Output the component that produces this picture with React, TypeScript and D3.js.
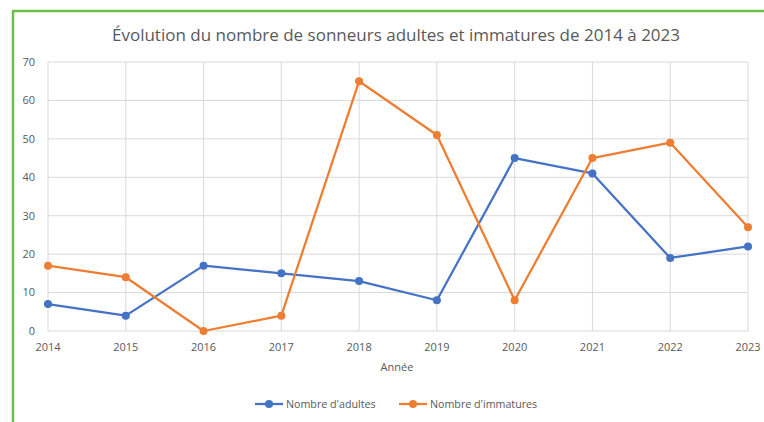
import React, { useEffect, useRef } from "react";
import * as d3 from "d3";

const years = ["2014", "2015", "2016", "2017", "2018", "2019", "2020", "2021", "2022", "2023"];
const adultes = [7, 4, 17, 15, 13, 8, 45, 41, 19, 22];
const immatures = [17, 14, 0, 4, 65, 51, 8, 45, 49, 27];
const yTicks = [0, 10, 20, 30, 40, 50, 60, 70];

const seriesList = [
    { name: "Nombre d'adultes", values: adultes, color: "#4472C4" },
    { name: "Nombre d'immatures", values: immatures, color: "#ED7D31" },
];

const W = 764;
const H = 422;
const font = "'Open Sans', sans-serif";
const textColor = "#595959";

const App = () => {
    const ref = useRef<SVGSVGElement>(null);

    useEffect(() => {
        const svg = d3.select(ref.current);
        svg.selectAll("*").remove();

        const x = d3.scalePoint<string>().domain(years).range([48, 748]);
        const y = d3.scaleLinear().domain([0, 70]).range([331, 62]);

        // green frame (left and top only visible)
        svg.append("line").attr("x1", 13).attr("x2", 13).attr("y1", 11).attr("y2", H)
            .attr("stroke", "#6cbf4a").attr("stroke-width", 2.5);
        svg.append("line").attr("x1", 12).attr("x2", W).attr("y1", 11).attr("y2", 11)
            .attr("stroke", "#6cbf4a").attr("stroke-width", 2.5);

        svg.append("text")
            .attr("x", 396).attr("y", 41)
            .attr("text-anchor", "middle")
            .style("font-family", font).style("font-size", "17px")
            .attr("fill", textColor)
            .text("Évolution du nombre de sonneurs adultes et immatures de 2014 à 2023");

        const grid = svg.append("g");
        grid.selectAll("line.h").data(yTicks).join("line")
            .attr("class", "h")
            .attr("x1", 48).attr("x2", 748)
            .attr("y1", d => y(d)).attr("y2", d => y(d))
            .attr("stroke", "#d9d9d9").attr("stroke-width", 1);
        grid.selectAll("line.v").data(years).join("line")
            .attr("class", "v")
            .attr("x1", d => x(d)!).attr("x2", d => x(d)!)
            .attr("y1", 62).attr("y2", 331)
            .attr("stroke", "#d9d9d9").attr("stroke-width", 1);

        svg.append("g").selectAll("text").data(yTicks).join("text")
            .attr("x", 35).attr("y", d => y(d))
            .attr("dy", "0.35em")
            .attr("text-anchor", "end")
            .style("font-family", font).style("font-size", "11px")
            .attr("fill", textColor)
            .text(d => d);

        svg.append("g").selectAll("text").data(years).join("text")
            .attr("x", d => x(d)!).attr("y", 351)
            .attr("text-anchor", "middle")
            .style("font-family", font).style("font-size", "11px")
            .attr("fill", textColor)
            .text(d => d);

        svg.append("text")
            .attr("x", 397).attr("y", 371)
            .attr("text-anchor", "middle")
            .style("font-family", font).style("font-size", "11px")
            .attr("fill", textColor)
            .text("Année");

        const line = d3.line<number>()
            .x((d, i) => x(years[i])!)
            .y(d => y(d));

        seriesList.forEach(s => {
            const g = svg.append("g");
            g.append("path")
                .datum(s.values)
                .attr("d", line)
                .attr("fill", "none")
                .attr("stroke", s.color)
                .attr("stroke-width", 2.25)
                .attr("stroke-linejoin", "round");
            g.selectAll("circle").data(s.values).join("circle")
                .attr("cx", (d, i) => x(years[i])!)
                .attr("cy", d => y(d))
                .attr("r", 4)
                .attr("fill", s.color);
        });

        // legend
        const legendX = [255, 399];
        seriesList.forEach((s, i) => {
            const lg = svg.append("g").attr("transform", `translate(${legendX[i]},404)`);
            lg.append("line").attr("x1", 0).attr("x2", 28).attr("y1", 0).attr("y2", 0)
                .attr("stroke", s.color).attr("stroke-width", 2.25);
            lg.append("circle").attr("cx", 14).attr("cy", 0).attr("r", 4).attr("fill", s.color);
            lg.append("text").attr("x", 31).attr("y", 0).attr("dy", "0.35em")
                .style("font-family", font).style("font-size", "10.7px")
                .attr("fill", textColor)
                .text(s.name);
        });
    }, []);

    return (
        <svg
            ref={ref}
            width={W}
            height={H}
            style={{ position: "absolute", left: 0, top: 0, background: "#fff" }}
        />
    );
};

export default App;
